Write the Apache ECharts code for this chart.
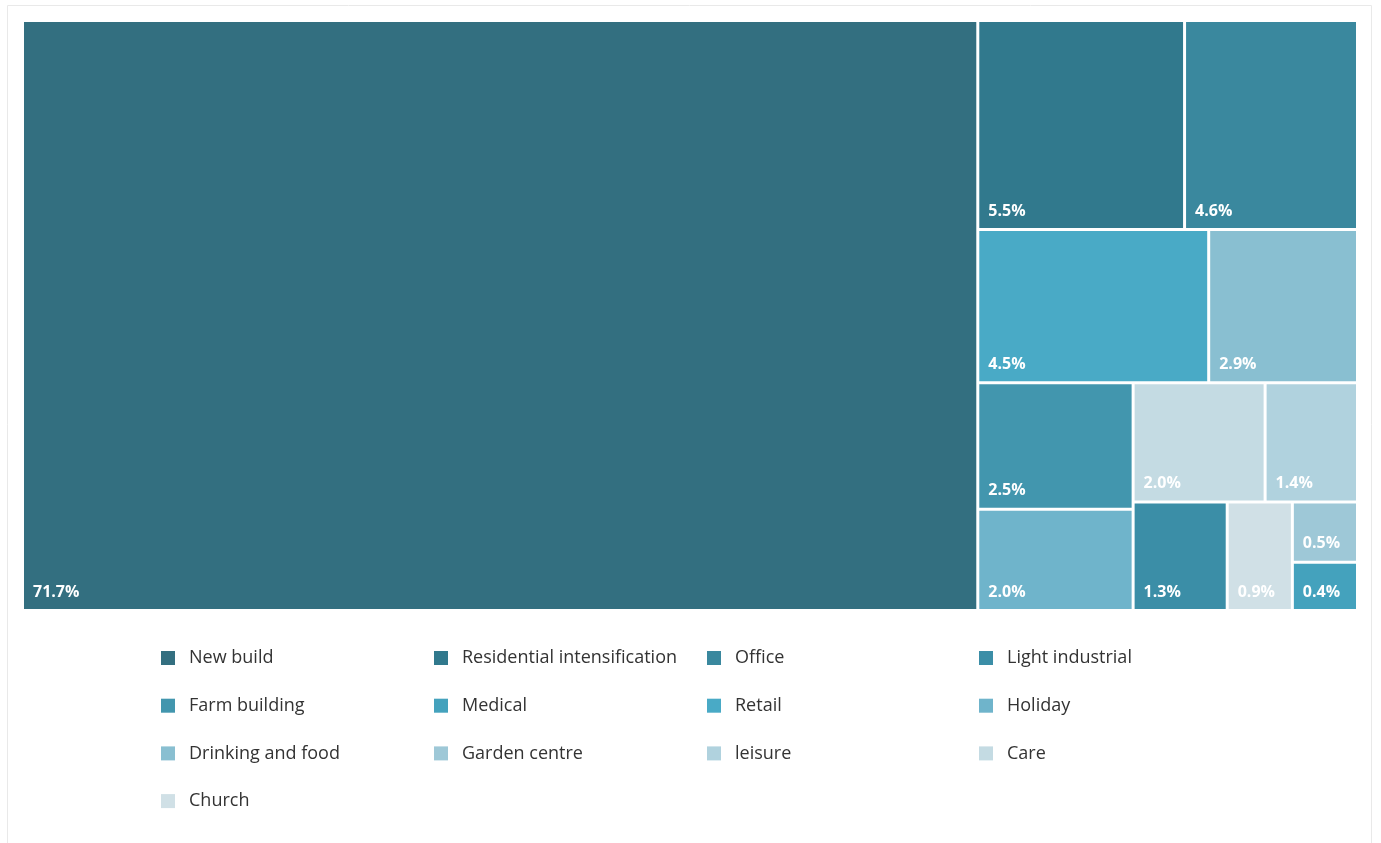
<!DOCTYPE html>
<html>
<head>
<meta charset="utf-8">
<script src="https://cdn.jsdelivr.net/npm/echarts@6/dist/echarts.min.js"></script>
<style>
html,body{margin:0;padding:0;background:#fff;}
#chart{width:1381px;height:843px;}
</style>
</head>
<body>
<div id="chart"></div>
<script>
// Categories in legend order
const categories = ['New build','Residential intensification','Office','Light industrial',
  'Farm building','Medical','Retail','Holiday',
  'Drinking and food','Garden centre','leisure','Care','Church'];
// Share of total (%) per category
const values = [71.7, 5.5, 4.6, 1.3, 2.5, 0.4, 4.5, 2.0, 2.9, 0.5, 1.4, 2.0, 0.9];
const colors = ['#336f80','#31798d','#3a889e','#3b8ea7','#4296ae','#44a2bd','#49aac6','#6fb4cb',
  '#89bfd1','#9ec8d7','#b0d2de','#c4dbe3','#d0e0e6'];
// Order in which tiles are placed in the treemap (largest first)
const tileOrder = ['New build','Residential intensification','Office','Retail','Drinking and food',
  'Farm building','Holiday','Care','leisure','Light industrial','Church','Garden centre','Medical'];

const FONT = 'Open Sans';
const chart = echarts.init(document.getElementById('chart'));

const treeData = tileOrder.map(n => {
  const i = categories.indexOf(n);
  return { name: n, value: values[i], itemStyle: { color: colors[i] } };
});

const columns = [[],[],[],[]];
categories.forEach((c, i) => columns[i % 4].push(c));
const colLeft = [161, 434, 707, 979];

const legends = columns.map((col, k) => ({
  orient: 'vertical',
  left: colLeft[k],
  top: 648,
  padding: 0,
  itemWidth: 14,
  itemHeight: 14,
  itemGap: 27.7,
  icon: 'rect',
  selectedMode: false,
  data: col,
  textStyle: { fontFamily: FONT, fontSize: 18, color: '#333', lineHeight: 20, padding: [0,0,0,9] }
}));

const dummySeries = categories.map((c, i) => ({
  type: 'line', name: c, data: [], color: colors[i], itemStyle: { color: colors[i] }
}));

chart.setOption({
  animation: false,
  graphic: [{
    type: 'rect', silent: true, z: -10,
    shape: { x: 7.5, y: 5.5, width: 1364, height: 860 },
    style: { fill: 'none', stroke: '#e9e9e9', lineWidth: 1 }
  }],
  legend: legends,
  grid: { show: false, left: 0, top: 0, width: 1, height: 1 },
  xAxis: { show: false, type: 'value' },
  yAxis: { show: false, type: 'value' },
  series: [{
    type: 'treemap',
    left: 24, top: 22, width: 1332, height: 587,
    sort: false,
    roam: false,
    nodeClick: false,
    breadcrumb: { show: false },
    squareRatio: 1,
    itemStyle: { gapWidth: 3, borderWidth: 0, borderColor: '#fff' },
    levels: [{ itemStyle: { gapWidth: 3, borderWidth: 0, borderColor: '#fff' } }],
    label: {
      show: true,
      position: 'insideBottomLeft',
      distance: 4,
      color: '#fff',
      fontFamily: FONT,
      fontWeight: 'bold',
      fontSize: 16,
      formatter: p => p.value.toFixed(1) + '%'
    },
    upperLabel: { show: false },
    data: treeData
  }].concat(dummySeries)
});
</script>
</body>
</html>
